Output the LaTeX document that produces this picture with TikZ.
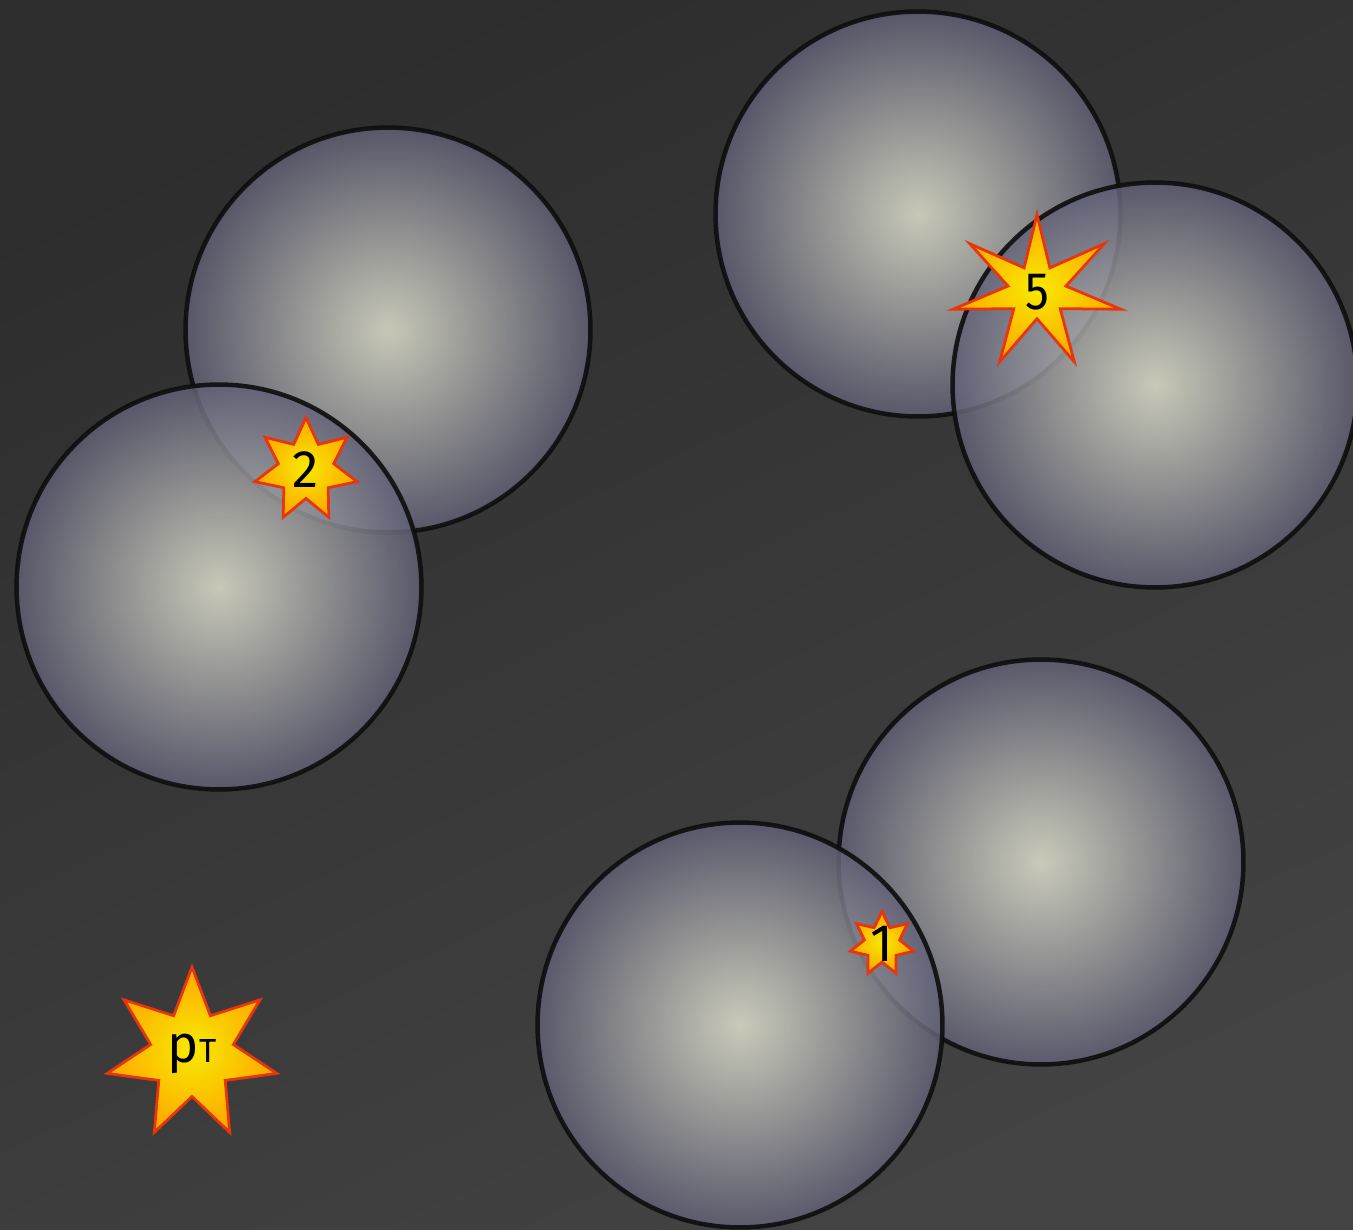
\documentclass[tikz,border=0pt]{standalone}
\usepackage{fontspec}
\setmainfont{Fira Sans}
\usetikzlibrary{shapes.geometric}

\definecolor{bgtop}{HTML}{2D2D2D}
\definecolor{bgbot}{HTML}{434343}
\definecolor{ballin}{RGB}{232,233,212}
\definecolor{ballout}{RGB}{96,96,118}
\definecolor{hotin}{HTML}{F7EA00}
\definecolor{hotout}{HTML}{FFA800}
\definecolor{hotrim}{HTML}{E8350C}

\tikzset{
  sphere/.style={circle, minimum size=8.1cm, inner sep=0pt, draw=black!95,
    line width=0.09cm, shading=radial, inner color=ballin, outer color=ballout,
    fill opacity=0.82, draw opacity=0.9},
  burst/.style={star, star points=7, inner sep=0pt, draw=hotrim,
    line width=0.055cm, shading=radial, inner color=hotin, outer color=hotout},
  burstlabel/.style={font=\fontsize{30}{32}\selectfont, text=black}
}

\begin{document}
\begin{tikzpicture}[x=0.02cm, y=-0.02cm]
    \useasboundingbox (0,0) rectangle (1353,1230);
    \shade[top color=bgtop, bottom color=bgbot, shading angle=25] (0,0) rectangle (1353,1230);

    % spheres, later ones lie on top
    \foreach \name/\x/\y in {sA/388/330, sB/219/587, sC/918/214, sD/1155/385, sE/1041/862, sF/740/1025}
      \node[sphere] (\name) at (\x,\y) {};

    % bursts
    \foreach \name/\x/\y/\d/\q/\txt in {pt/192/1054/3.48cm/2.05/{p{\fontsize{19}{19}\selectfont T}},
        h2/306/470/2.1cm/1.85/2, h1/882/944/1.3cm/1.8/1}
      \node[burst, minimum size=\d, star point ratio=\q,
            label={[burstlabel]center:\txt}] (\name) at (\x,\y) {};
    \node[burst, minimum size=3.1cm, star point ratio=2.9, xscale=1.11, transform shape,
          label={[burstlabel, xscale=0.9]center:5}] (h5) at (1037,292) {};
\end{tikzpicture}
\end{document}
